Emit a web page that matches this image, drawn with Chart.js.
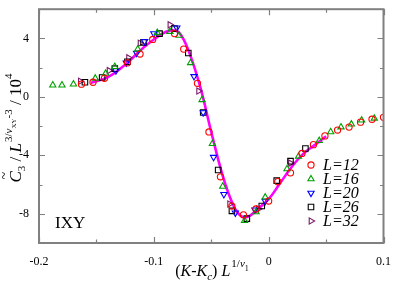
<!DOCTYPE html>
<html>
<head>
<meta charset="utf-8">
<script src="https://cdn.jsdelivr.net/npm/chart.js@4"></script>
<style>
  html, body { margin: 0; padding: 0; background: #fff; }
  #wrap { width: 395px; height: 283px; }
</style>
</head>
<body>
<div id="wrap"><canvas id="c3Chart" width="395" height="283"></canvas></div>
<script>
// scaled data: x = (K-Kc) L^(1/nu1), y = C3 / L^(3/nuXY-3) / 1e4
const x12 = [-0.163, -0.153, -0.143, -0.123, -0.112, -0.101, -0.082, -0.074, -0.062, -0.052, -0.042, -0.032, -0.022, -0.011, 0.0, 0.008, 0.019, 0.029, 0.039, 0.049, 0.060, 0.070, 0.080, 0.090, 0.100];
const y12 = [0.87, 1.0, 1.27, 2.33, 2.93, 3.93, 4.33, 3.27, 0.93, -2.4, -5.47, -7.47, -8.07, -7.67, -7.13, -5.8, -5.2, -3.87, -3.27, -2.67, -2.27, -2.07, -1.73, -1.53, -1.4];

const x16 = [-0.188, -0.180, -0.170, -0.151, -0.142, -0.134, -0.114, -0.097, -0.086, -0.078, -0.068, -0.058, -0.049, -0.040, -0.021, -0.011, -0.003, 0.016, 0.026, 0.044, 0.054, 0.063, 0.072, 0.081, 0.092];
const y16 = [0.8, 0.8, 0.87, 1.27, 1.6, 2.07, 3.27, 4.4, 4.47, 4.2, 2.33, -0.2, -3.2, -6.13, -8.47, -7.87, -6.87, -4.93, -4.07, -3.0, -2.4, -2.07, -1.87, -1.6, -1.47];

const x20 = [-0.133, -0.124, -0.115, -0.108, -0.100, -0.080, -0.065, -0.057, -0.048, -0.039, -0.029, -0.012, -0.003];
const y20 = [1.8, 2.33, 3.0, 3.8, 4.33, 4.73, 1.4, -1.07, -4.13, -6.67, -7.93, -7.73, -7.13];

const x26 = [-0.160, -0.145, -0.134, -0.123, -0.109, -0.095, -0.082, -0.070, -0.057, -0.044, -0.032, -0.019, -0.006, 0.007, 0.019, 0.032];
const y26 = [1.0, 1.33, 1.93, 2.4, 3.73, 4.33, 4.67, 3.0, -1.07, -5.0, -7.8, -8.33, -7.47, -5.73, -4.4, -3.53];

const x32 = [-0.164, -0.139, -0.122, -0.112, -0.086, -0.061, -0.034, -0.009, 0.019];
const y32 = [1.07, 1.8, 2.67, 3.67, 4.93, 0.4, -7.33, -7.67, -4.53];

// scaling function (magenta curve)
const xFit = [-0.155, -0.14, -0.125, -0.11, -0.095, -0.085, -0.078, -0.07, -0.06, -0.05, -0.04, -0.032, -0.025, -0.018, -0.01, 0.0, 0.01, 0.02, 0.03, 0.04, 0.05];
const yFit = [0.95, 1.35, 2.2, 3.3, 4.2, 4.55, 4.4, 3.2, 0.8, -2.4, -5.4, -7.2, -8.1, -8.2, -7.7, -7.0, -5.9, -4.8, -3.9, -3.3, -2.7];

const sizes = ['L=12', 'L=16', 'L=20', 'L=26', 'L=32'];
const xRange = [-0.2, 0.1];
const yRange = [-10, 6];

const zip = (xs, ys) => xs.map((x, i) => ({ x: x, y: ys[i] }));

const serif = '"Liberation Serif", "DejaVu Serif", serif';
const frameColor = '#808080';

function markerSet(label, xs, ys, color, style, rot, r) {
    return {
        label: label,
        data: zip(xs, ys),
        showLine: false,
        borderColor: color,
        backgroundColor: 'rgba(0,0,0,0)',
        pointStyle: style,
        rotation: rot,
        pointRadius: r,
        pointBorderWidth: 1.1,
        order: 1
    };
}

const sets = [
    markerSet(sizes[0], x12, y12, '#ff0000', 'circle', 0, 3.1),
    markerSet(sizes[1], x16, y16, '#00a000', 'triangle', 0, 3.6),
    markerSet(sizes[2], x20, y20, '#0000ff', 'triangle', 180, 3.6),
    markerSet(sizes[3], x26, y26, '#000000', 'rect', 0, 3.9),
    markerSet(sizes[4], x32, y32, '#7a1a68', 'triangle', 90, 3.6)
];

// draws a run of text pieces with different fonts / vertical shifts
function drawRich(ctx, parts, x, y, center) {
    let total = 0;
    parts.forEach(p => { ctx.font = p.font; p.w = ctx.measureText(p.t).width + (p.gap || 0); total += p.w; });
    let cx = center ? x - total / 2 : x;
    parts.forEach(p => {
        ctx.font = p.font;
        ctx.fillText(p.t, cx, y + (p.dy || 0));
        if (p.tilde) {
            ctx.font = '14px ' + serif;
            ctx.fillText('~', cx + 3, y - 12);
        }
        cx += p.w;
    });
}

const decor = {
    id: 'decor',
    afterDraw(chart) {
        const ctx = chart.ctx;
        const a = chart.chartArea;
        const xs = chart.scales.x, ys = chart.scales.y;
        ctx.save();

        // frame with inward ticks
        ctx.strokeStyle = frameColor;
        ctx.lineWidth = 2;
        ctx.strokeRect(a.left, a.top, a.right - a.left, a.bottom - a.top);
        ctx.lineWidth = 1.2;
        ctx.beginPath();
        for (let i = 0; i <= 6; i++) {
            const v = xRange[0] + i * 0.05;
            const px = Math.round(xs.getPixelForValue(v)) + 0.5;
            const len = i % 2 === 0 ? 6 : 3.5;
            ctx.moveTo(px, a.bottom); ctx.lineTo(px, a.bottom - len);
            ctx.moveTo(px, a.top); ctx.lineTo(px, a.top + len);
        }
        for (let v = yRange[0]; v <= yRange[1]; v += 2) {
            const py = Math.round(ys.getPixelForValue(v)) + 0.5;
            const len = v % 4 === 0 ? 6 : 3.5;
            ctx.moveTo(a.left, py); ctx.lineTo(a.left + len, py);
            ctx.moveTo(a.right, py); ctx.lineTo(a.right - len, py);
        }
        ctx.stroke();

        ctx.fillStyle = '#000';
        ctx.textBaseline = 'alphabetic';
        ctx.textAlign = 'left';

        // panel tag
        ctx.font = '17px ' + serif;
        ctx.fillText('IXY', 55, 228);

        // legend
        const H = Chart.helpers;
        sets.forEach((ds, i) => {
            const cy = 165 + i * 14;
            const opts = { pointStyle: ds.pointStyle, rotation: ds.rotation, radius: ds.pointRadius, borderWidth: 1.1 };
            ctx.strokeStyle = ds.borderColor;
            ctx.fillStyle = 'rgba(0,0,0,0)';
            ctx.lineWidth = 1.1;
            if (H && H.drawPoint) H.drawPoint(ctx, opts, 311, cy);
            ctx.fillStyle = '#000';
            ctx.font = 'italic 16px ' + serif;
            ctx.fillText(ds.label, 323, cy + 5);
        });

        // x title
        const big = '16px ' + serif, bigI = 'italic 16px ' + serif;
        const sm = '11px ' + serif, smI = 'italic 11px ' + serif, tiny = '8px ' + serif;
        drawRich(ctx, [
            { t: '(', font: big },
            { t: 'K', font: bigI },
            { t: '-', font: big },
            { t: 'K', font: bigI },
            { t: 'c', font: 'italic 11px ' + serif, dy: 4 },
            { t: ') ', font: big },
            { t: 'L', font: bigI, gap: 1 },
            { t: '1/', font: sm, dy: -9 },
            { t: 'ν', font: smI, dy: -9 },
            { t: '1', font: tiny, dy: -5 }
        ], 212, 276, true);

        // y title (rotated)
        ctx.translate(21, 128);
        ctx.rotate(-Math.PI / 2);
        drawRich(ctx, [
            { t: 'C', font: 'italic 17px ' + serif, tilde: true },
            { t: '3', font: sm, dy: 4 },
            { t: ' / ', font: '17px ' + serif },
            { t: 'L', font: 'italic 17px ' + serif, gap: 1 },
            { t: '3/', font: sm, dy: -9 },
            { t: 'ν', font: smI, dy: -9 },
            { t: 'XY', font: '7px ' + serif, dy: -5 },
            { t: '-3', font: sm, dy: -9 },
            { t: ' / 10', font: '17px ' + serif },
            { t: '4', font: sm, dy: -9 }
        ], 0, 0, true);

        ctx.restore();
    }
};

new Chart(document.getElementById('c3Chart').getContext('2d'), {
    type: 'scatter',
    data: {
        datasets: [
            ...sets,
            {
                label: 'fit',
                data: zip(xFit, yFit),
                showLine: true,
                borderColor: '#ff00ff',
                borderWidth: 2.6,
                pointRadius: 0,
                tension: 0.4,
                order: 5
            }
        ]
    },
    options: {
        responsive: false,
        animation: false,
        layout: { padding: { left: 0, right: 9, top: 2, bottom: 0 } },
        scales: {
            x: {
                type: 'linear',
                min: xRange[0], max: xRange[1],
                grid: { display: false },
                border: { display: false },
                afterFit: s => { s.height = 40; },
                ticks: {
                    stepSize: 0.1,
                    padding: 4,
                    color: '#000',
                    font: { family: serif, size: 12 },
                    maxRotation: 0,
                    callback: v => {
                        const r = Math.round(v * 10) / 10;
                        return r === 0 ? '0' : r.toFixed(1);
                    }
                }
            },
            y: {
                type: 'linear',
                min: yRange[0], max: yRange[1],
                grid: { display: false },
                border: { display: false },
                afterFit: s => { s.width = 39; },
                ticks: {
                    stepSize: 2,
                    padding: 2,
                    color: '#000',
                    font: { family: serif, size: 12 },
                    callback: v => (v % 4 === 0 ? String(v) : '')
                }
            }
        },
        plugins: {
            legend: { display: false },
            tooltip: { enabled: false }
        }
    },
    plugins: [decor]
});
</script>
</body>
</html>
